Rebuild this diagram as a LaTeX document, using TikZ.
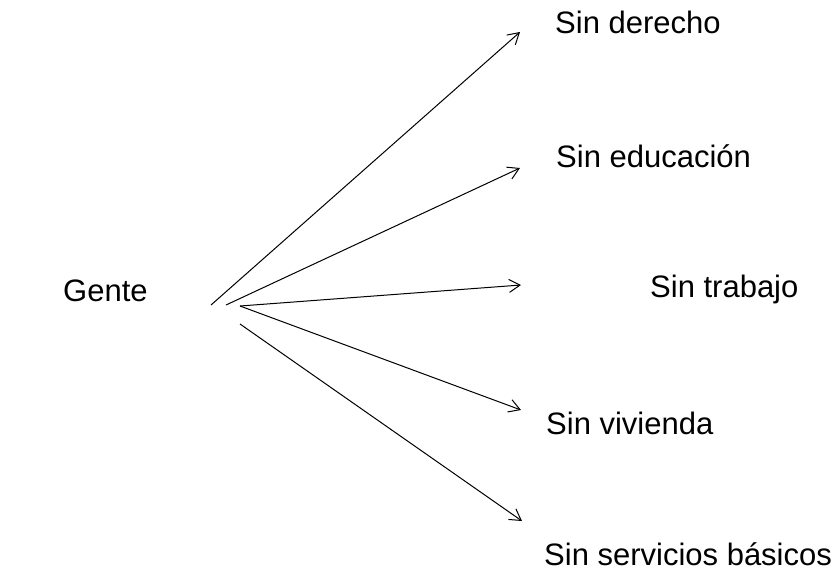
\documentclass[tikz,border=0pt]{standalone}
\usepackage{fontspec}
\setmainfont{Liberation Sans}
\usetikzlibrary{arrows.meta}
\begin{document}
\begin{tikzpicture}[x=1pt,y=-1pt,
  lbl/.style={anchor=base west,inner sep=0pt,font=\fontsize{31}{37}\selectfont},
  arr/.style={line width=1pt,-{Straight Barb[length=11pt,width=13pt,line width=1pt]}}]
\useasboundingbox (0,0) rectangle (838,571);
\node[lbl] (gente) at (63,301) {Gente};
\node[lbl] (n1) at (555,33) {Sin derecho};
\node[lbl] (n2) at (556,167) {Sin educación};
\node[lbl] (n3) at (650,297) {Sin trabajo};
\node[lbl] (n4) at (546,434) {Sin vivienda};
\node[lbl] (n5) at (544,565) {Sin servicios básicos};
\coordinate (s1) at (211,305);
\coordinate (s2) at (226,305);
\coordinate (s3) at (240,306);
\coordinate (s5) at (240,324);
\coordinate (e1) at (520,32);
\coordinate (e2) at (520,168);
\coordinate (e3) at (521,285);
\coordinate (e4) at (521,410);
\coordinate (e5) at (522,521);
\draw[arr] (s1) -- (e1);
\draw[arr] (s2) -- (e2);
\draw[arr] (s3) -- (e3);
\draw[arr] (s3) -- (e4);
\draw[arr] (s5) -- (e5);
\end{tikzpicture}
\end{document}
